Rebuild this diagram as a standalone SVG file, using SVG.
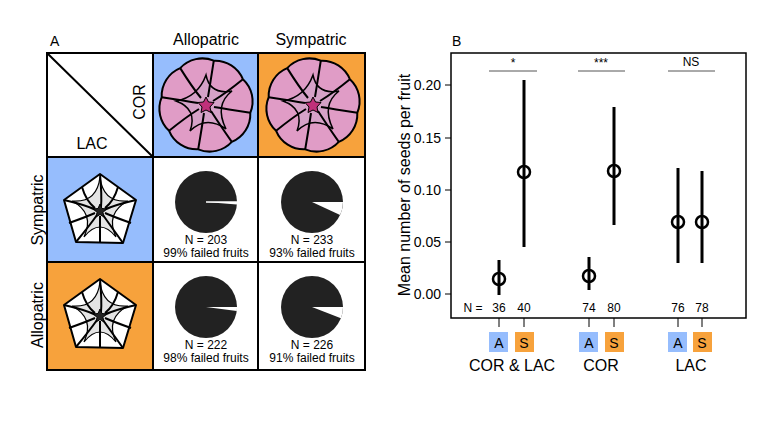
<svg xmlns="http://www.w3.org/2000/svg" width="780" height="422" viewBox="0 0 780 422">
<defs>
<style>
text{font-family:"Liberation Sans",Arial,sans-serif;fill:#000}
.ln{stroke:#000;stroke-width:2;fill:none}
.bar{stroke:#000;stroke-width:3}
.pt{fill:none;stroke:#000;stroke-width:2.5}
.lbl{font-size:16px}
.sm{font-size:12px}
</style>
<g id="pinkflower">
<path d="M44.3,7.8 A30,30 0 0 1 25.8,36.9 A30,30 0 0 1 -7.8,44.3 A30,30 0 0 1 -36.9,25.8 A30,30 0 0 1 -44.3,-7.8 A30,30 0 0 1 -25.8,-36.9 A30,30 0 0 1 7.8,-44.3 A30,30 0 0 1 36.9,-25.8 A30,30 0 0 1 44.3,7.8Z" fill="#e09cc6" stroke="#000" stroke-width="2"/>
<path d="M0,-30 Q4,-10 26,-14 Q8,0 20,24 Q0,10 -16,26 Q-8,4 -30,-4 Q-8,-8 0,-30Z" fill="#d6a2c8" stroke="#000" stroke-width="1.5"/>
<path d="M44.3,7.8 Q20,4 8,2 M25.8,36.9 Q14,20 5,6 M-7.8,44.3 Q-4,22 -2,8 M-36.9,25.8 Q-20,12 -7,4 M-44.3,-7.8 Q-20,-4 -8,-2 M-25.8,-36.9 Q-14,-18 -5,-7 M7.8,-44.3 Q4,-20 2,-8 M36.9,-25.8 Q20,-12 7,-4" class="ln" stroke-width="1.8"/>
<polygon points="0,-8 2.5,-3 8,-2.5 4,2 5,7.5 0,5 -5,7.5 -4,2 -8,-2.5 -2.5,-3" fill="#c0307a" stroke="#000" stroke-width="1"/>
</g>
<g id="whiteflower">
<path d="M0,-37 L36,-11 L23,32 L-24,31 L-36,-11Z" fill="#fff" stroke="#000" stroke-width="2" stroke-linejoin="round"/>
<path d="M0,-34 Q3,-8 28,-10 Q5,2 16,26 Q0,6 -16,26 Q-5,2 -28,-10 Q-3,-8 0,-34Z" fill="#e4e4e4" stroke="#000" stroke-width="1.2"/>
<path d="M0,-37 Q2,-15 1,-4 M36,-11 Q14,-6 4,-1 M23,32 Q10,14 3,4 M-24,31 Q-10,14 -3,4 M-36,-11 Q-14,-6 -4,-1 M18,-24 Q14,-10 5,-3 M31,12 Q14,6 5,2 M0,31 Q0,14 0,5 M-31,12 Q-14,6 -5,2 M-18,-24 Q-14,-10 -5,-3" class="ln" stroke-width="1.6"/>
<polygon points="0,-7 2,-2.5 6.5,-2 3,1.5 4,6 0,3.5 -4,6 -3,1.5 -6.5,-2 -2,-2.5" fill="#222" stroke="#000" stroke-width="1"/>
</g>
</defs>
<rect width="780" height="422" fill="#fff"/>

<g id="panelA">
<text x="50" y="46" font-size="14">A</text>
<text x="206" y="45" class="lbl" text-anchor="middle">Allopatric</text>
<text x="311" y="45" class="lbl" text-anchor="middle">Sympatric</text>
<text transform="translate(43,210) rotate(-90)" class="lbl" text-anchor="middle">Sympatric</text>
<text transform="translate(43,315) rotate(-90)" class="lbl" text-anchor="middle">Allopatric</text>
<rect x="153" y="53" width="105" height="104" fill="#96bdfd"/>
<rect x="258" y="53" width="107" height="104" fill="#f7a23c"/>
<rect x="47" y="157" width="106" height="105" fill="#96bdfd"/>
<rect x="47" y="262" width="106" height="108" fill="#f7a23c"/>
<path d="M47,53 H365 V370 H47Z M153,53 V370 M258,53 V370 M47,157 H365 M47,262 H365 M47,53 L153,157" class="ln"/>
<text transform="translate(145,102) rotate(-90)" class="lbl" text-anchor="middle">COR</text>
<text x="92" y="149" class="lbl" text-anchor="middle">LAC</text>
</g>
<g id="flower-allo-cor"><use href="#pinkflower" transform="translate(206,105)"/></g>
<g id="flower-sym-cor"><use href="#pinkflower" transform="translate(313,105)"/></g>
<g id="flower-sym-lac"><use href="#whiteflower" transform="translate(100,211)"/></g>
<g id="flower-allo-lac"><use href="#whiteflower" transform="translate(100,316)"/></g>

<g id="pie1">
<circle cx="206" cy="202" r="31" fill="#222"/>
<path d="M206,202 L237,202 A31,31 0 0 1 236.9,204.5Z" fill="#fff"/>
<path d="M206,202 L237,202" stroke="#fff" stroke-width="1.5"/>
<text x="206" y="244" class="sm" text-anchor="middle">N = 203</text>
<text x="206" y="257" class="sm" text-anchor="middle">99% failed fruits</text>
</g>
<g id="pie2">
<circle cx="312" cy="202" r="31" fill="#222"/>
<path d="M312,202 L343,202 A31,31 0 0 1 340.1,215.1Z" fill="#fff"/>
<text x="312" y="244" class="sm" text-anchor="middle">N = 233</text>
<text x="312" y="257" class="sm" text-anchor="middle">93% failed fruits</text>
</g>
<g id="pie3">
<circle cx="206" cy="307" r="31" fill="#222"/>
<path d="M206,307 L237,307 A31,31 0 0 1 236.8,310.9Z" fill="#fff"/>
<text x="206" y="349" class="sm" text-anchor="middle">N = 222</text>
<text x="206" y="362" class="sm" text-anchor="middle">98% failed fruits</text>
</g>
<g id="pie4">
<circle cx="312" cy="307" r="31" fill="#222"/>
<path d="M312,307 L343,307 A31,31 0 0 1 340.9,318.2Z" fill="#fff"/>
<text x="312" y="349" class="sm" text-anchor="middle">N = 226</text>
<text x="312" y="362" class="sm" text-anchor="middle">91% failed fruits</text>
</g>

<g id="panelB">
<text x="452" y="46" font-size="14">B</text>
<rect x="451" y="53" width="295" height="265" fill="none" stroke="#000" stroke-width="1.5"/>
<path d="M445,85 H451 M445,138 H451 M445,190 H451 M445,242 H451 M445,294 H451" stroke="#000" stroke-width="1"/>
<g font-size="14" text-anchor="end">
<text x="441" y="90">0.20</text><text x="441" y="143">0.15</text><text x="441" y="195">0.10</text><text x="441" y="247">0.05</text><text x="441" y="299">0.00</text>
</g>
<text transform="translate(410,185) rotate(-90)" class="lbl" text-anchor="middle">Mean number of seeds per fruit</text>
<path d="M489,71 H537 M578,71 H625 M668,71 H715" stroke="#555" stroke-width="1"/>
<text x="513" y="67" class="sm" text-anchor="middle">*</text>
<text x="601" y="67" class="sm" text-anchor="middle">***</text>
<text x="691" y="66" class="sm" text-anchor="middle">NS</text>
</g>
<g id="connectors">
<path d="M499,260 V295 M524,80 V247 M589,257 V290 M614,107 V225 M678,168 V263 M702,171 V263" class="bar"/>
<path d="M499,318 V327 M524,318 V327 M589,318 V327 M614,318 V327 M678,318 V327 M702,318 V327" stroke="#000" stroke-width="1"/>
</g>
<g id="points">
<circle cx="499" cy="279" r="6" class="pt"/>
<circle cx="524" cy="172" r="6" class="pt"/>
<circle cx="589" cy="276" r="6" class="pt"/>
<circle cx="614" cy="171" r="6" class="pt"/>
<circle cx="678" cy="222" r="6" class="pt"/>
<circle cx="702" cy="222" r="6" class="pt"/>
</g>
<g id="nrow" text-anchor="middle" font-size="12">
<text x="473" y="312">N =</text>
<text x="499" y="312">36</text><text x="524" y="312">40</text>
<text x="589" y="312">74</text><text x="614" y="312">80</text>
<text x="678" y="312">76</text><text x="702" y="312">78</text>
</g>
<g id="groups" text-anchor="middle">
<rect x="489" y="332" width="19" height="20" fill="#96bdfd"/><text x="499" y="348" font-size="14">A</text>
<rect x="515" y="332" width="19" height="20" fill="#f7a23c"/><text x="524" y="348" font-size="14">S</text>
<rect x="579" y="332" width="19" height="20" fill="#96bdfd"/><text x="589" y="348" font-size="14">A</text>
<rect x="605" y="332" width="19" height="20" fill="#f7a23c"/><text x="614" y="348" font-size="14">S</text>
<rect x="668" y="332" width="19" height="20" fill="#96bdfd"/><text x="678" y="348" font-size="14">A</text>
<rect x="693" y="332" width="19" height="20" fill="#f7a23c"/><text x="702" y="348" font-size="14">S</text>
<text x="512" y="371" class="lbl">COR &amp; LAC</text>
<text x="601" y="371" class="lbl">COR</text>
<text x="691" y="371" class="lbl">LAC</text>
</g>
</svg>
